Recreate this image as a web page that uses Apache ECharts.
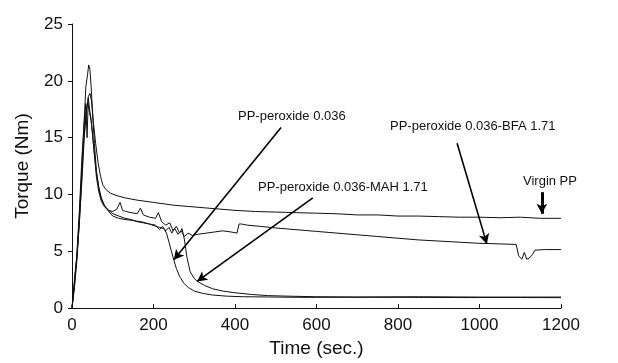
<!DOCTYPE html>
<html>
<head>
<meta charset="utf-8">
<script src="https://cdn.jsdelivr.net/npm/echarts@6/dist/echarts.min.js"></script>
<style>
  html, body { margin: 0; padding: 0; background: #fff; }
  #torquechart { width: 618px; height: 363px; }
</style>
</head>
<body>
<div id="torquechart"></div>
<script>
// torque curves (time in sec, torque in Nm)
const virginT = [0, 6, 12, 18, 24, 30, 36, 40, 44, 48, 52, 58, 64, 70, 76, 84, 95, 110, 130, 160, 200, 250, 300, 350, 400, 450, 500, 550, 600, 650, 700, 750, 800, 850, 900, 950, 1000, 1050, 1100, 1150, 1200];
const virginY = [0, 2.5, 4.5, 7.5, 11, 15, 17.5, 18.6, 18.9, 18.2, 16.5, 14.5, 12.8, 11.6, 10.8, 10.4, 10.1, 9.9, 9.7, 9.5, 9.3, 9.05, 8.9, 8.75, 8.6, 8.5, 8.45, 8.4, 8.35, 8.3, 8.2, 8.2, 8.1, 8.1, 8.05, 8.0, 8.0, 7.95, 8.0, 7.9, 7.9];

const perT = [0, 6, 12, 18, 24, 30, 34, 38, 41, 44, 47, 50, 55, 60, 66, 72, 80, 90, 100, 115, 130, 145, 160, 175, 190, 205, 215, 225, 232, 238, 244, 250, 256, 264, 274, 286, 300, 320, 345, 380, 420, 480, 550, 650, 800, 950, 1100, 1200];
const perY = [0, 2.0, 4.5, 8, 12, 16.5, 19.5, 20.5, 21.4, 21.0, 19.5, 17.5, 14.5, 12.0, 10.5, 9.6, 9.0, 8.6, 8.3, 8.1, 7.9, 7.8, 7.6, 7.5, 7.4, 7.2, 7.1, 7.0, 6.6, 5.8, 5.0, 4.2, 3.5, 2.8, 2.2, 1.8, 1.5, 1.3, 1.15, 1.05, 1.0, 0.98, 0.95, 0.95, 0.95, 0.93, 0.93, 0.92];

const mahT = [0, 6, 12, 18, 24, 30, 34, 37, 40, 43, 46, 50, 55, 60, 66, 72, 80, 90, 100, 110, 118, 124, 132, 145, 160, 168, 175, 190, 205, 212, 220, 230, 240, 248, 256, 264, 270, 276, 282, 290, 300, 310, 325, 345, 370, 400, 440, 480, 530, 600, 700, 850, 1000, 1200];
const mahY = [0, 2.3, 4.8, 8.5, 13, 16.5, 18.0, 15.0, 18.5, 17.5, 16.8, 15.5, 13.5, 11.5, 10.2, 9.4, 8.9, 8.6, 8.5, 8.7, 9.3, 8.6, 8.5, 8.4, 8.3, 8.8, 8.2, 8.0, 7.9, 8.4, 7.6, 7.3, 7.5, 6.8, 7.2, 6.6, 7.0, 6.0, 4.5, 3.2, 2.6, 2.3, 2.0, 1.7, 1.5, 1.35, 1.2, 1.1, 1.05, 1.0, 0.98, 1.0, 0.97, 0.97];

const bfaT = [0, 6, 12, 18, 24, 30, 35, 39, 43, 47, 51, 55, 60, 66, 72, 80, 90, 100, 115, 130, 150, 170, 190, 205, 215, 222, 230, 238, 245, 252, 260, 268, 276, 285, 295, 310, 330, 350, 370, 390, 405, 410, 416, 430, 460, 500, 550, 600, 650, 700, 750, 800, 850, 900, 950, 1000, 1050, 1090, 1096, 1104, 1110, 1116, 1122, 1130, 1136, 1160, 1200];
const bfaY = [0, 1.8, 4.2, 7.5, 11.5, 15.5, 17.5, 18.0, 17.2, 16.5, 15.0, 13.5, 12.0, 10.6, 9.7, 9.0, 8.5, 8.1, 7.9, 7.8, 7.7, 7.6, 7.4, 7.3, 6.9, 7.2, 6.8, 7.1, 6.6, 7.0, 6.5, 6.8, 6.3, 6.6, 6.4, 6.5, 6.6, 6.7, 6.8, 6.7, 6.6, 7.4, 7.4, 7.3, 7.2, 7.05, 6.9, 6.75, 6.6, 6.45, 6.3, 6.15, 6.0, 5.9, 5.8, 5.7, 5.65, 5.6, 4.6, 4.3, 4.9, 4.3, 4.4, 4.7, 5.1, 5.15, 5.15];

const xTicks = [0, 200, 400, 600, 800, 1000, 1200];
const yTicks = [0, 5, 10, 15, 20, 25];

// arrows: [from, to] in data coords
const arrowPer = [[513, 15.9], [250, 4.25]];
const arrowMah = [[591, 9.7], [307, 2.35]];
const arrowBfa = [[945, 14.5], [1018, 5.65]];
const arrowVirgin = [[1153, 10.2], [1153, 8.3]];

const font = "'Liberation Sans', Arial, Helvetica, sans-serif";

function pairs(t, y) {
  return t.map(function (v, i) { return [v, y[i]]; });
}

function arrow(a, w) {
  return [
    { coord: a[0], lineStyle: { width: w } },
    { coord: a[1] }
  ];
}

const lineStyle = { color: '#111', width: 1 };

const option = {
  animation: false,
  backgroundColor: '#fff',
  grid: { left: 72, right: 57, top: 24, bottom: 51 },
  xAxis: {
    type: 'value',
    min: 0, max: 1200, interval: 200,
    name: 'Time (sec.)',
    nameLocation: 'middle',
    nameGap: 30,
    nameTextStyle: { fontFamily: font, fontSize: 19, color: '#111' },
    axisLine: { lineStyle: { color: '#111', width: 1 } },
    axisTick: { inside: true, length: 4, lineStyle: { color: '#111' } },
    axisLabel: {
      fontFamily: font, fontSize: 17, color: '#111', margin: 9,
      formatter: function (v) { return xTicks.indexOf(v) >= 0 ? String(v) : ''; }
    },
    splitLine: { show: false }
  },
  yAxis: {
    type: 'value',
    min: 0, max: 25, interval: 5,
    name: 'Torque (Nm)',
    nameLocation: 'middle',
    nameGap: 40,
    nameTextStyle: { fontFamily: font, fontSize: 19, color: '#111' },
    axisLine: { show: true, lineStyle: { color: '#111', width: 1 } },
    axisTick: { show: true, length: 4, lineStyle: { color: '#111' } },
    axisLabel: {
      fontFamily: font, fontSize: 17, color: '#111', margin: 9,
      formatter: function (v) { return yTicks.indexOf(v) >= 0 ? String(v) : ''; }
    },
    splitLine: { show: false }
  },
  series: [
    {
      name: 'Virgin PP', type: 'line', showSymbol: false, lineStyle: lineStyle,
      data: pairs(virginT, virginY),
      markLine: {
        silent: true,
        symbol: ['none', 'arrow'],
        symbolSize: [8, 10],
        label: { show: false },
        lineStyle: { color: '#000', type: 'solid', width: 1.6 },
        data: [
          arrow(arrowPer, 1.6),
          arrow(arrowMah, 1.6),
          arrow(arrowBfa, 1.6),
          arrow(arrowVirgin, 3)
        ]
      }
    },
    { name: 'PP-peroxide 0.036', type: 'line', showSymbol: false, lineStyle: lineStyle, data: pairs(perT, perY) },
    { name: 'PP-peroxide 0.036-MAH 1.71', type: 'line', showSymbol: false, lineStyle: lineStyle, data: pairs(mahT, mahY) },
    { name: 'PP-peroxide 0.036-BFA 1.71', type: 'line', showSymbol: false, lineStyle: lineStyle, data: pairs(bfaT, bfaY) }
  ],
  graphic: [
    { type: 'text', left: 238, top: 110, style: { text: 'PP-peroxide 0.036', font: '13px ' + font, fill: '#111' } },
    { type: 'text', left: 258, top: 181, style: { text: 'PP-peroxide 0.036-MAH 1.71', font: '13px ' + font, fill: '#111' } },
    { type: 'text', left: 390, top: 120, style: { text: 'PP-peroxide 0.036-BFA 1.71', font: '13px ' + font, fill: '#111' } },
    { type: 'text', left: 523, top: 175, style: { text: 'Virgin PP', font: '13px ' + font, fill: '#111' } }
  ]
};

const mychart = echarts.init(document.getElementById('torquechart'));
mychart.setOption(option);
</script>
</body>
</html>
